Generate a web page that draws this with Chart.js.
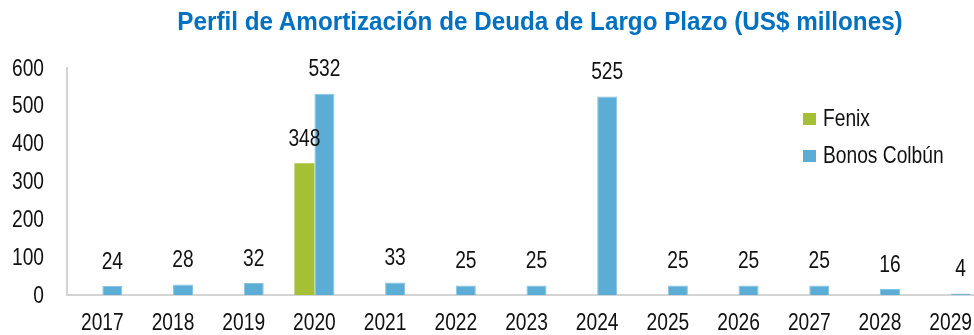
<!DOCTYPE html>
<html lang="es">
<head>
<meta charset="UTF-8">
<title>Perfil de Amortización de Deuda</title>
<script src="https://cdn.jsdelivr.net/npm/chart.js"></script>
<style>
    html, body { margin: 0; padding: 0; background: #fff; overflow: hidden; }
    .wrap { position: relative; width: 974px; height: 335px; overflow: hidden; }
    .chart-box { position: absolute; left: 0; top: 0; width: 1000px; height: 335px; }
    h2 {
        position: absolute; left: 540px; top: 9px; margin: 0;
        transform: translateX(-50%) scaleX(0.97); white-space: nowrap;
        font: bold 25px/25px "Liberation Sans", Arial, sans-serif;
        color: #0070C0;
    }
</style>
</head>
<body>
<div class="wrap">
    <div class="chart-box"><canvas id="deudaChart" width="1000" height="335"></canvas></div>
    <h2>Perfil de Amortización de Deuda de Largo Plazo (US$ millones)</h2>
</div>

<script>
    const years = ["2017", "2018", "2019", "2020", "2021", "2022", "2023", "2024", "2025", "2026", "2027", "2028", "2029"];
    const fenix = [0, 0, 0, 348, 0, 0, 0, 0, 0, 0, 0, 0, 0];
    const bonosColbun = [24, 28, 32, 532, 33, 25, 25, 525, 25, 25, 25, 16, 4];
    const yTicks = [0, 100, 200, 300, 400, 500, 600];

    const FONT = '24px "Liberation Sans", Arial, sans-serif';
    const SX = 0.8; // squeeze text horizontally to get a narrow face

    function narrowText(ctx, text, x, y, align) {
        ctx.save();
        ctx.translate(x, y);
        ctx.scale(SX, 1);
        ctx.textAlign = align;
        ctx.fillText(text, 0, 0);
        ctx.restore();
    }

    // axis tick labels, value labels and legend, all in the narrow style
    const textLayer = {
        id: 'textLayer',
        afterDraw(chart) {
            const ctx = chart.ctx;
            const xs = chart.scales.x, ys = chart.scales.y;
            ctx.save();
            ctx.font = FONT;
            ctx.fillStyle = '#111';
            ctx.textBaseline = 'middle';

            yTicks.forEach(v => narrowText(ctx, String(v), 44, ys.getPixelForValue(v) + 1, 'right'));
            years.forEach((yr, i) => narrowText(ctx, yr, xs.getPixelForTick(i), 323, 'center'));

            chart.data.datasets.forEach((ds, i) => {
                chart.getDatasetMeta(i).data.forEach((bar, j) => {
                    if (ds.data[j] > 0) narrowText(ctx, String(ds.data[j]), bar.x, bar.y - 24, 'center');
                });
            });

            chart.data.datasets.forEach((ds, i) => {
                const y = 119 + i * 37;
                ctx.fillStyle = ds.backgroundColor;
                ctx.fillRect(803, y - 6, 13, 12);
                ctx.fillStyle = '#111';
                narrowText(ctx, ds.label, 823, y, 'left');
            });
            ctx.restore();
        }
    };

    new Chart(document.getElementById('deudaChart'), {
        type: 'bar',
        data: {
            labels: years,
            datasets: [
                { label: 'Fenix', data: fenix, backgroundColor: '#A5C034' },
                { label: 'Bonos Colbún', data: bonosColbun, backgroundColor: '#5BADD5', borderColor: '#86C3E2', borderWidth: 1 }
            ]
        },
        options: {
            responsive: false,
            animation: false,
            layout: { padding: { top: 68, right: 14, left: 0, bottom: 0 } },
            categoryPercentage: 0.566,
            barPercentage: 1,
            plugins: { legend: { display: false }, tooltip: { enabled: false } },
            scales: {
                x: {
                    grid: { display: false, drawTicks: false },
                    border: { color: '#d4d4d4', width: 2 },
                    ticks: { display: false },
                    afterFit(scale) { scale.height = 40; }
                },
                y: {
                    min: 0, max: 600,
                    grid: { display: false, drawTicks: false },
                    border: { color: '#d4d4d4', width: 2 },
                    ticks: { display: false, stepSize: 100 },
                    afterFit(scale) { scale.width = 67; }
                }
            }
        },
        plugins: [textLayer]
    });
</script>
</body>
</html>
